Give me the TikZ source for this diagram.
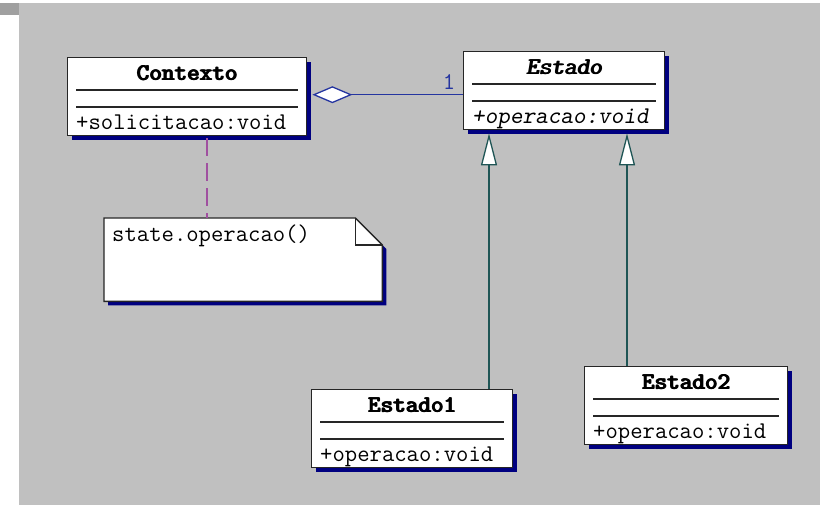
\documentclass[tikz,border=0pt]{standalone}
\usetikzlibrary{arrows.meta,calc,shadows}
\definecolor{canvas}{HTML}{C0C0C0}
\definecolor{strip}{HTML}{A0A0A0}
\definecolor{shadowblue}{HTML}{000080}
\definecolor{agg}{HTML}{2535A0}
\definecolor{gen}{HTML}{1F5555}
\definecolor{anchorln}{HTML}{A050A0}
% heavier class titles, set by overprinting with a small shift
\newcommand\heavy[1]{\rlap{#1}\kern0.6pt\rlap{#1}\kern0.6pt #1}
\newcommand\heavysl[1]{{\mdseries\slshape\rlap{#1}\kern0.7pt\rlap{#1}\kern0.7pt #1}}
\begin{document}
\begin{tikzpicture}[x=1pt,y=-1pt,
  classbox/.style={draw=black!85,line width=1.4pt,fill=white,anchor=north west,
    minimum height=78pt,inner sep=0pt,
    drop shadow={shadow xshift=4pt,shadow yshift=-4pt,fill=shadowblue,opacity=1}},
  sepline/.style={draw=black!85,line width=1.3pt},
  mono/.style={font=\ttfamily\fontsize{24}{25}\selectfont,inner sep=0pt},
  title/.style={mono,font=\ttfamily\bfseries\fontsize{24}{25}\selectfont,anchor=base},
  member/.style={mono,anchor=base west},
  aggline/.style={draw=agg,line width=1.3pt},
  genline/.style={draw=gen,line width=1.3pt},
  noteline/.style={draw=anchorln,line width=2pt,dash pattern=on 18pt off 7pt}]

% background
\fill[white] (0,0) rectangle (823,505);
\fill[canvas] (19,3) rectangle (820,505);
\fill[strip] (0,3) rectangle (19,15);
\useasboundingbox (0,0) rectangle (823,505);

% class boxes: title, two compartment lines, one operation
\newcommand\umlclass[6]{%
  \node[classbox,minimum width=#4pt] (#1) at (#2,#3) {};
  \draw[sepline] ($(#1.north west)+(9,33)$) -- ($(#1.north east)+(-9,33)$);
  \draw[sepline] ($(#1.north west)+(9,50)$) -- ($(#1.north east)+(-9,50)$);
  \node[title] (#1-t) at ($(#1.north)+(0,24)$) {#5};
  \node[member] (#1-m) at ($(#1.north west)+(9,72.5)$) {#6};
}
\umlclass{ctx}{67}{57}{239}{\heavy{Contexto}}{+solicitacao:void}
\umlclass{est}{463}{51}{201}{\heavysl{Estado}}{\slshape +operacao:void}
\umlclass{eone}{311}{389}{201}{\heavy{Estado1}}{+operacao:void}
\umlclass{etwo}{584}{366}{203}{\heavy{Estado2}}{+operacao:void}

% note with folded corner
\node[anchor=north west,minimum width=278pt,minimum height=83pt,inner sep=0pt] (note) at (104,218) {};
\fill[shadowblue] ($(note.north west)+(4,4)$) -- ($(note.north east)+(-23,4)$)
  -- ($(note.north east)+(4,31)$) -- ($(note.south east)+(4,4)$)
  -- ($(note.south west)+(4,4)$) -- cycle;
\draw[fill=white,draw=black!85,line width=1.4pt] (note.north west) -- ($(note.north east)+(-27,0)$)
  -- ($(note.north east)+(0,27)$) -- (note.south east) -- (note.south west) -- cycle;
\draw[draw=black!85,line width=1.4pt] ($(note.north east)+(-27,0)$) -- ($(note.north east)+(-27,27)$)
  -- ($(note.north east)+(0,27)$);
\node[member] (note-t) at ($(note.north west)+(8,24)$) {state.operacao()};

% aggregation Contexto <>-- Estado
\coordinate (aggend) at ($(est.west)+(0,4)$);
\draw[aggline,{Diamond[fill=white,length=40pt,width=17pt,line width=1.3pt]}-,shorten <=5pt]
  (ctx.east |- aggend) -- (aggend);
\node[mono,text=agg,font=\ttfamily\fontsize{24}{25}\selectfont] (mult) at ($(aggend)+(-14,-13)$) {1};

% generalizations
\coordinate (g1) at ($(est.south west)+(26,0)$);
\coordinate (g2) at ($(est.south west)+(164,0)$);
\draw[genline,-{Triangle[fill=white,length=32pt,width=16pt,line width=1.3pt]},shorten >=3pt]
  (eone.north -| g1) -- (g1);
\draw[genline,-{Triangle[fill=white,length=32pt,width=16pt,line width=1.3pt]},shorten >=3pt]
  (etwo.north -| g2) -- (g2);

% note anchor
\coordinate (na) at ($(ctx.south west)+(140,0)$);
\draw[noteline,shorten <=2pt] (na) -- (na |- note.north);
\end{tikzpicture}
\end{document}
